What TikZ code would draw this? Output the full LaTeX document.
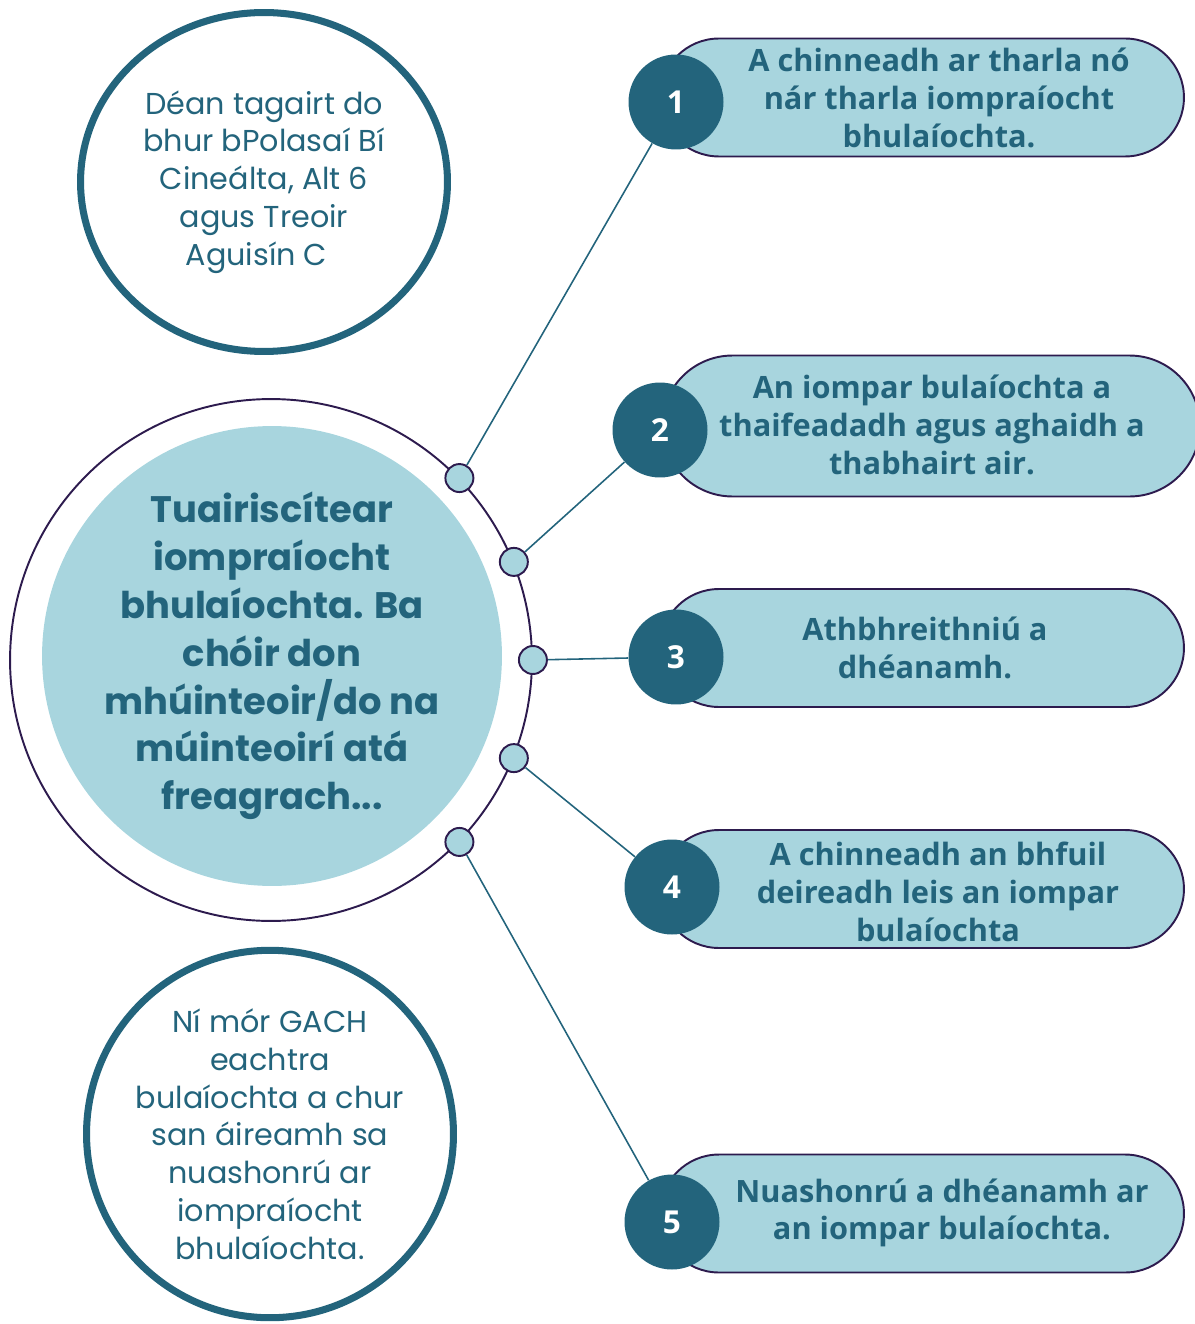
\documentclass[tikz,border=0pt]{standalone}
\usepackage{fontspec}
\setmainfont{Poppins}
\newfontfamily\pillfont{Open Sans}
\usetikzlibrary{shapes.geometric,shapes.misc}

\definecolor{deepteal}{HTML}{23647C}
\definecolor{paleblue}{HTML}{A8D5DE}
\definecolor{inkpurple}{HTML}{2D1B4E}

\tikzset{
  note/.style={ellipse, draw=deepteal, line width=4pt, fill=white, inner sep=-1cm,
    align=center, text=deepteal, font=\fontsize{17.2}{21.5}\selectfont},
  ring/.style={circle, draw=inkpurple, line width=1.1pt, minimum size=10.44cm, inner sep=0pt},
  core/.style={circle, fill=paleblue, minimum size=9.2cm, inner sep=-1cm, align=center,
    text=deepteal, font=\fontsize{21}{27.2}\selectfont\bfseries},
  dot/.style={circle, draw=inkpurple, fill=paleblue, line width=1.1pt, minimum size=0.56cm, inner sep=0pt},
  pill/.style={rounded rectangle, draw=inkpurple, fill=paleblue, line width=1.1pt,
    minimum width=10.48cm, minimum height=2.36cm, inner sep=0pt},
  pilltext/.style={align=center, text=deepteal, font=\pillfont\bfseries\fontsize{17.5}{21.5}\selectfont},
  num/.style={circle, fill=deepteal, minimum size=1.9cm, inner sep=0pt, text=white,
    font=\pillfont\bfseries\fontsize{18}{18}\selectfont},
  link/.style={draw=deepteal, line width=0.9pt}
}

\begin{document}
\begin{tikzpicture}[x=0.02cm, y=-0.02cm]
  \useasboundingbox (0,0) rectangle (1194,1324);

  \node[note, minimum width=7.34cm, minimum height=6.78cm] (ref) at (264,182)
    {Déan tagairt do\\bhur bPolasaí Bí\\Cineálta, Alt 6\\agus Treoir\\Aguisín C\hspace*{0.3cm}};

  \node[ring] (ring) at (271,660) {};
  \node[core] (core) at (272,656)
    {Tuairiscítear\\iompraíocht\\bhulaíochta. Ba\\chóir don\\mhúinteoir/do na\\múinteoirí atá\\freagrach...};

  \node[note, minimum width=7.34cm, minimum height=7.35cm] (rule) at (270,1134)
    {Ní mór GACH\\eachtra\\bulaíochta a chur\\san áireamh sa\\nuashonrú ar\\iompraíocht\\bhulaíochta.};

  \node[dot] (d1) at (ring.44) {};
  \node[dot] (d2) at (ring.22.5) {};
  \node[dot] (d3) at (ring.0) {};
  \node[dot] (d4) at (ring.-22.5) {};
  \node[dot] (d5) at (ring.-44) {};

  \node[pill] (p1) at (922,97.5) {};
  \node[pilltext] (t1) at (939,98) {A chinneadh ar tharla nó\\nár tharla iompraíocht\\bhulaíochta.};
  \node[num] (n1) at (676,102) {1};

  \node[pill, minimum width=10.76cm, minimum height=2.82cm] (p2) at (931,426) {};
  \node[pilltext] (t2) at (932,425) {An iompar bulaíochta a\\thaifeadadh agus aghaidh a\\thabhairt air.};
  \node[num] (n2) at (660,430) {2};

  \node[pill] (p3) at (922,648) {};
  \node[pilltext] (t3) at (925,648) {Athbhreithniú a\\dhéanamh.};
  \node[num] (n3) at (676,657) {3};

  \node[pill] (p4) at (922,889) {};
  \node[pilltext] (t4) at (938,892) {A chinneadh an bhfuil\\deireadh leis an iompar\\bulaíochta};
  \node[num] (n4) at (672,887) {4};

  \node[pill] (p5) at (922,1213.5) {};
  \node[pilltext] (t5) at (942,1213) {Nuashonrú a dhéanamh ar\\an iompar bulaíochta.};
  \node[num] (n5) at (672,1222) {5};

  \draw[link] (d1) -- (n1);
  \draw[link] (d2) -- (n2);
  \draw[link] (d3) -- (n3);
  \draw[link] (d4) -- (n4);
  \draw[link] (d5) -- (n5);
\end{tikzpicture}
\end{document}
